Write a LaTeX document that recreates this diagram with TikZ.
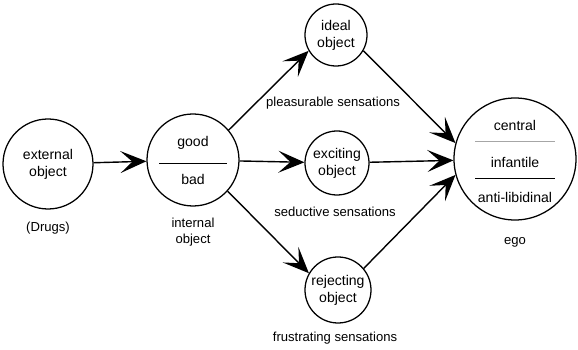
\documentclass[tikz,border=0pt]{standalone}
\usepackage{fontspec}
\setmainfont{Liberation Sans}
\usetikzlibrary{arrows.meta}

\begin{document}
\begin{tikzpicture}[
    >={Stealth[length=6.5mm,width=5.5mm,inset=3mm]},
    obj/.style={
        draw,
        circle,
        line width=0.9pt,
        inner sep=0pt,
        align=center,
        font=\fontsize{10}{12}\selectfont
    },
    txt/.style={
        align=center,
        font=\fontsize{10}{12}\selectfont
    },
    lbl/.style={
        align=center,
        font=\fontsize{9.3}{11}\selectfont
    },
    arr/.style={
        ->,
        line width=1pt
    }
]
    \useasboundingbox (0,0) rectangle (14.45,8.75);

    \node[obj, minimum size=22.5mm] (external) at (1.2,4.65)
        {external\\object};
    \node[lbl] (drugs) at (1.2,3.05) {(Drugs)};

    \node[obj, minimum size=23mm] (internal) at (4.825,4.75) {};
    \node[txt] (good) at (4.825,5.175) {good};
    \node[txt] (bad) at (4.825,4.275) {bad};
    \draw[semithick] ([xshift=-8.5mm,yshift=-0.75mm]internal.center)
        -- ([xshift=8.5mm,yshift=-0.75mm]internal.center);
    \node[lbl] (internallbl) at (4.825,2.95) {internal\\object};

    \node[obj, minimum size=15.5mm] (ideal) at (8.4,7.875)
        {ideal\\object};
    \node[lbl] (pleasurable) at (8.325,6.175) {pleasurable sensations};

    \node[obj, minimum size=16mm] (exciting) at (8.425,4.675)
        {exciting\\object};
    \node[lbl] (seductive) at (8.375,3.45) {seductive sensations};

    \node[obj, minimum size=16.5mm] (rejecting) at (8.45,1.5)
        {rejecting\\object};
    \node[lbl] (frustrating) at (8.375,0.3) {frustrating sensations};

    \node[obj, minimum size=30.5mm] (ego) at (12.875,4.775) {};
    \node[txt] (central) at (12.875,5.625) {central};
    \node[txt] (infantile) at (12.875,4.7) {infantile};
    \node[txt] (antilibidinal) at (12.875,3.825) {anti-libidinal};
    \draw[gray!70] ([xshift=-10mm,yshift=4.5mm]ego.center)
        -- ([xshift=10mm,yshift=4.5mm]ego.center);
    \draw[semithick] ([xshift=-10mm,yshift=-4.75mm]ego.center)
        -- ([xshift=10mm,yshift=-4.75mm]ego.center);
    \node[lbl] (egolbl) at (12.875,2.7) {ego};

    \draw[arr] (external) -- (internal);
    \draw[arr] (internal.40) -- (ideal.210);
    \draw[arr] (internal) -- (exciting);
    \draw[arr] (internal.-42) -- (rejecting.150);

    \draw[arr] (ideal.-30) -- (ego.165);
    \draw[arr] (exciting) -- (ego);
    \draw[arr] (rejecting.40) -- (ego.195);

\end{tikzpicture}
\end{document}
